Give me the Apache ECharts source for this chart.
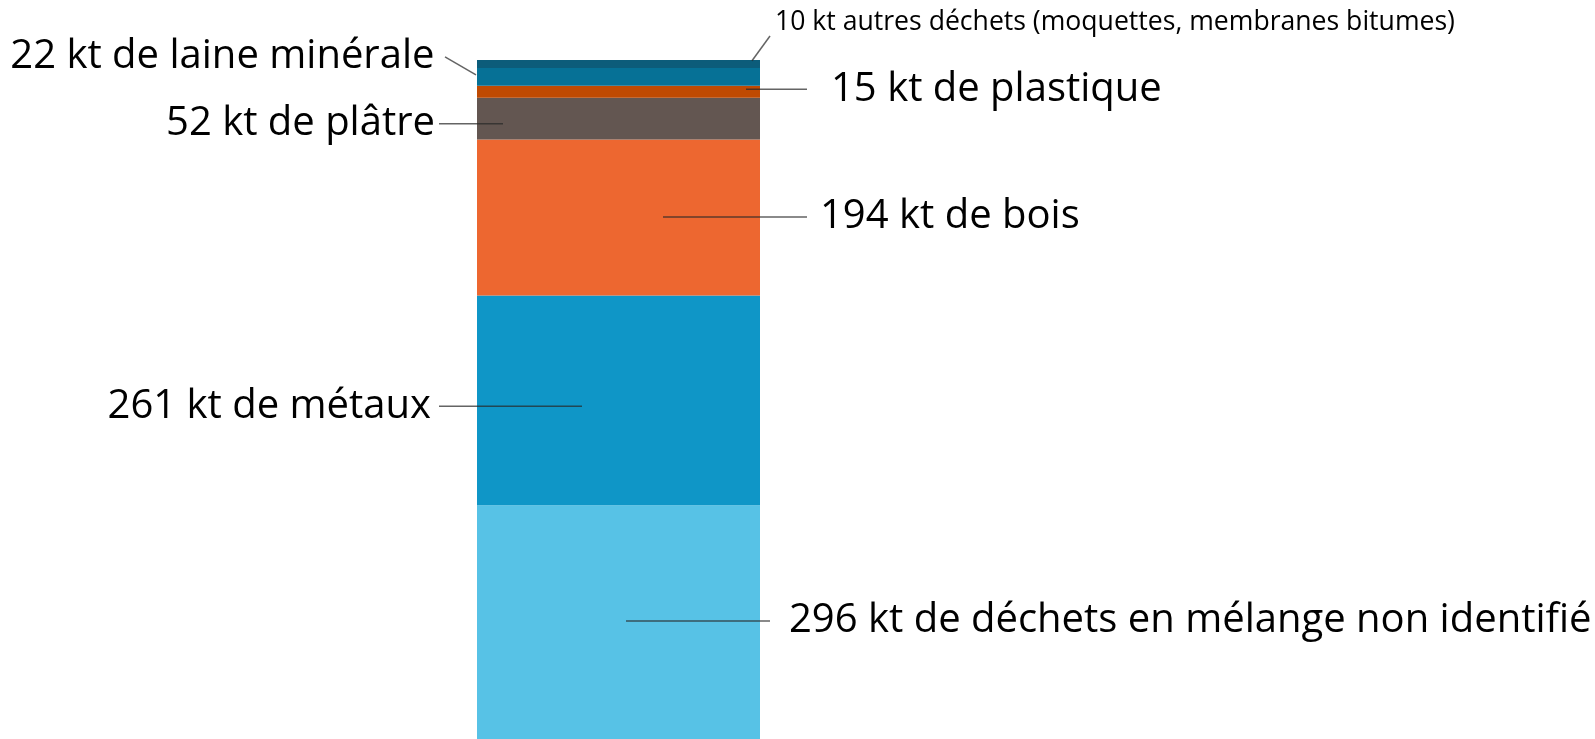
<!DOCTYPE html>
<html>
<head>
<meta charset="utf-8">
<title>Déchets du bâtiment</title>
<script src="https://cdn.jsdelivr.net/npm/echarts@6/dist/echarts.min.js"></script>
<style>
  html, body { margin: 0; padding: 0; background: #fff; overflow: hidden; }
  /* a bit taller than the window so the bar runs past the bottom edge */
  #chart { width: 1595px; height: 743px; }
</style>
</head>
<body>
<div id="chart"></div>
<script>
// stacked from bottom to top
const wasteNames = [
  'de déchets en mélange non identifié',
  'de métaux',
  'de bois',
  'de plâtre',
  'de plastique',
  'de laine minérale',
  'autres déchets (moquettes, membranes bitumes)'
]
const wasteValues = [296, 261, 194, 52, 15, 22, 10]
const categories = ['Déchets']

const colors = ['#57c2e6', '#0f96c7', '#ed6730', '#635651', '#bf4a02', '#067196', '#0c5c7a']

// leader line layout, px offsets from bar centre / segment middle
const leaders = [
  { side: 'right', x1: 7.5,    x2: 151.5,  dy: -3,   ly: 0,     tx: 170.5,  size: 40 },
  { side: 'left',  x1: -36.5,  x2: -179.5, dy: 6,    ly: 0,     tx: -187.5, size: 40 },
  { side: 'right', x1: 44.5,   x2: 188.5,  dy: -0.5, ly: 0,     tx: 201.5,  size: 40 },
  { side: 'left',  x1: -115.5, x2: -179.5, dy: 5,    ly: 0,     tx: -183.5, size: 40 },
  { side: 'right', x1: 127.5,  x2: 188.5,  dy: -2.5, ly: 0,     tx: 212.5,  size: 40 },
  { side: 'left',  x1: -142.5, x2: -173.5, dy: -2,   ly: -18,   tx: -184,   size: 40 },
  { side: 'right', x1: 133.5,  x2: 151.5,  dy: -3.3, ly: -24.7, tx: 156.5,  size: 26.6, ty: -13.5 }
]

const chart = echarts.init(document.getElementById('chart'))

// cumulative ranges for each segment
let acc = 0
const ranges = wasteValues.map(v => {
  const r = [0, acc, acc + v]
  acc += v
  return r
})
const total = acc

const barSeries = wasteValues.map((v, i) => ({
  name: wasteNames[i],
  type: 'bar',
  stack: 'total',
  barWidth: '100%',
  data: [v],
  itemStyle: { color: colors[i] },
  silent: true
}))

const option = {
  animation: false,
  grid: { left: 477, width: 283, top: 60, bottom: 0, containLabel: false },
  xAxis: {
    type: 'category',
    data: categories,
    show: false
  },
  yAxis: {
    type: 'value',
    min: 0,
    max: total,
    show: false
  },
  series: [
    ...barSeries,
    {
      type: 'custom',
      z: 10,
      silent: true,
      data: ranges,
      renderItem: function (params, api) {
        const i = params.dataIndex
        const L = leaders[i]
        const cx = api.coord([0, 0])[0]
        const yLo = api.coord([0, api.value(1)])[1]
        const yHi = api.coord([0, api.value(2)])[1]
        const y1 = (yLo + yHi) / 2 + L.dy
        const y2 = y1 + L.ly
        const ty = y2 + (L.ty || 0)
        return {
          type: 'group',
          children: [
            {
              type: 'line',
              shape: { x1: cx + L.x1, y1: y1, x2: cx + L.x2, y2: y2 },
              style: { stroke: 'rgba(40,40,40,0.72)', lineWidth: 1.5 }
            },
            {
              type: 'text',
              style: {
                text: wasteValues[i] + ' kt ' + wasteNames[i],
                x: cx + L.tx,
                y: ty,
                align: L.side === 'right' ? 'left' : 'right',
                verticalAlign: 'middle',
                fill: '#000',
                fontFamily: '"Open Sans", "Noto Sans", sans-serif',
                fontSize: L.size
              }
            }
          ]
        }
      }
    }
  ]
}

chart.setOption(option)
</script>
</body>
</html>
